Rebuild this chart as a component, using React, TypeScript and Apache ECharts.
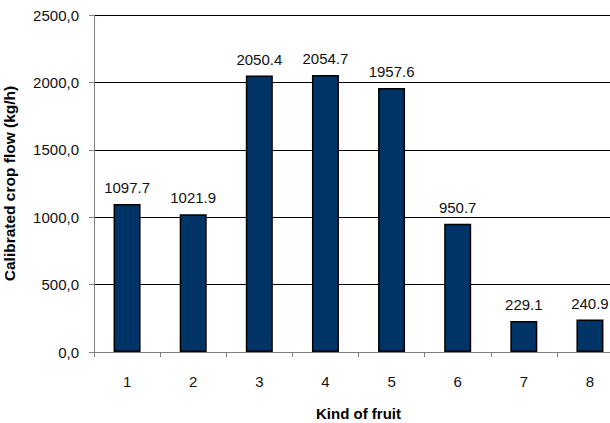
import React, { useEffect, useRef } from "react";
import * as echarts from "echarts";

const categories = ["1", "2", "3", "4", "5", "6", "7", "8"];
const values = [1097.7, 1021.9, 2050.4, 2054.7, 1957.6, 950.7, 229.1, 240.9];
const yTicks = [0, 500, 1000, 1500, 2000, 2500];

export default function App() {
  const ref = useRef<HTMLDivElement>(null);
  useEffect(() => {
    if (!ref.current) return;
    const chart = echarts.init(ref.current, null, { renderer: "svg" });
    const font = "'Liberation Sans', Arial, sans-serif";
    chart.setOption({
      animation: false,
      grid: { left: 94, top: 15, width: 529, height: 337, containLabel: false, outerBoundsMode: "none" },
      xAxis: {
        type: "category",
        data: categories,
        name: "Kind of fruit",
        nameLocation: "middle",
        nameGap: 54,
        nameTextStyle: { fontFamily: font, fontSize: 15, fontWeight: "bold", color: "#000" },
        axisLine: { lineStyle: { color: "#808080", width: 1 } },
        axisTick: { show: true, alignWithLabel: false, length: 5, lineStyle: { color: "#808080" } },
        axisLabel: { fontFamily: font, fontSize: 15, color: "#111", margin: 22 },
      },
      yAxis: {
        type: "value",
        min: 0,
        max: 2500,
        interval: 500,
        name: "Calibrated crop flow (kg/h)",
        nameLocation: "middle",
        nameGap: 77,
        nameTextStyle: { fontFamily: font, fontSize: 15.5, fontWeight: "bold", color: "#000" },
        axisLine: { show: true, lineStyle: { color: "#808080", width: 1 } },
        axisTick: { show: true, length: 5, lineStyle: { color: "#808080" } },
        axisLabel: {
          fontFamily: font,
          fontSize: 15,
          color: "#111",
          margin: 15,
          formatter: (v: number) => (yTicks.includes(v) ? v.toFixed(1).replace(".", ",") : ""),
        },
        splitLine: { show: true, lineStyle: { color: "#000", width: 1 } },
      },
      series: [
        {
          type: "bar",
          data: values,
          barWidth: 27,
          itemStyle: { color: "#003366", borderColor: "#000", borderWidth: 1.5 },
          label: {
            show: true,
            position: "top",
            distance: 9,
            fontFamily: font,
            fontSize: 15,
            color: "#111",
            formatter: (p: any) => p.value.toFixed(1),
          },
        },
      ],
    });
    return () => chart.dispose();
  }, []);
  return <div ref={ref} style={{ width: 610, height: 423, position: "absolute", left: 0, top: 0, background: "#fff" }} />;
}
